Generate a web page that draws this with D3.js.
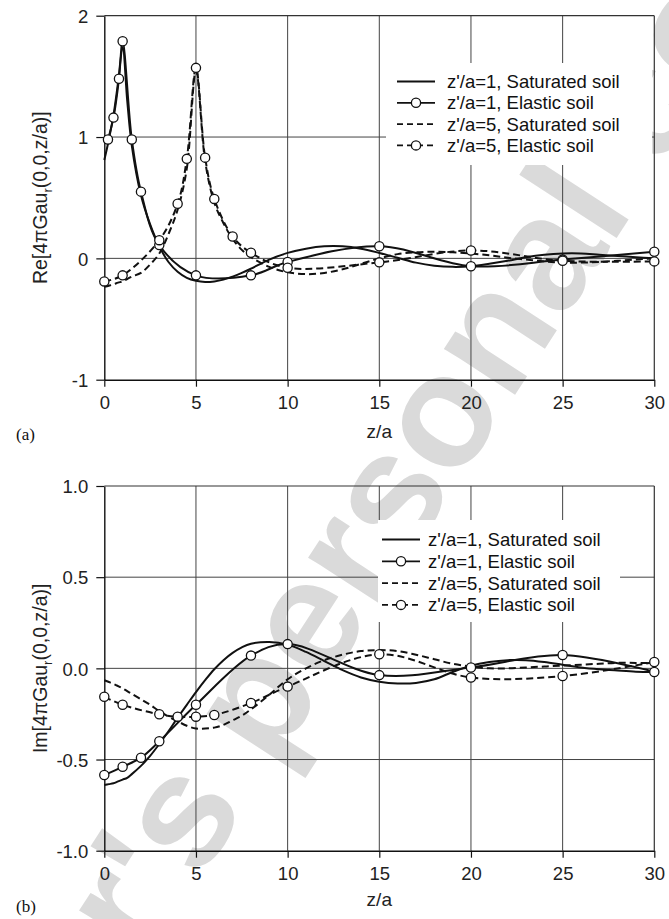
<!DOCTYPE html>
<html>
<head>
<meta charset="utf-8">
<script src="https://cdn.jsdelivr.net/npm/d3@7"></script>
<style>
  body { margin: 0; background: #fff; }
  svg { display: block; font-family: "Liberation Sans", Arial, Helvetica, sans-serif; }
</style>
</head>
<body>
<svg id="chart" width="669" height="919"></svg>
<script>
// x positions (z/a) shared by the saturated-soil curves
const satX = [0, 0.25, 0.5, 0.75, 1, 1.25, 1.5, 2, 2.5, 3, 3.5, 4, 4.5, 5, 5.5, 6, 6.5, 7, 7.5, 8,
  9, 10, 11, 12, 13, 14, 15, 16, 17, 18, 19, 20, 21, 22, 23, 24, 25, 26, 27, 28, 29, 30];

// (a) real part
const reSat1 = [0.81, 0.98, 1.18, 1.45, 1.74, 1.3, 0.93, 0.52, 0.28, 0.1, -0.03, -0.11, -0.16, -0.185, -0.195, -0.19,
  -0.175, -0.15, -0.12, -0.085, -0.01, 0.045, 0.08, 0.1, 0.1, 0.08, 0.045, 0.005, -0.035, -0.06, -0.07, -0.065,
  -0.045, -0.02, 0.01, 0.03, 0.04, 0.04, 0.03, 0.02, 0.01, 0.0];
const reSat5 = [-0.235, -0.225, -0.215, -0.2, -0.19, -0.17, -0.15, -0.12, -0.05, 0.04, 0.2, 0.4, 0.74, 1.55, 0.8, 0.46,
  0.29, 0.16, 0.07, 0.01, -0.07, -0.115, -0.13, -0.12, -0.09, -0.045, 0.0, 0.035, 0.05, 0.055, 0.05, 0.04,
  0.025, 0.005, -0.01, -0.025, -0.035, -0.035, -0.03, -0.02, -0.01, 0.0];
const reEla1X = [0.2, 0.5, 0.8, 1, 1.5, 2, 3, 5, 8, 10, 15, 20, 25, 30];
const reEla1 = [0.98, 1.16, 1.48, 1.79, 0.98, 0.55, 0.11, -0.14, -0.14, -0.03, 0.1, -0.065, -0.01, 0.055];
const reEla5X = [0, 1, 3, 4, 4.5, 5, 5.5, 6, 7, 8, 10, 15, 20, 25, 30];
const reEla5 = [-0.19, -0.14, 0.15, 0.45, 0.82, 1.57, 0.83, 0.49, 0.18, 0.046, -0.077, -0.033, 0.065, -0.02, -0.025];

// (b) imaginary part
const imSat1 = [-0.64, -0.635, -0.63, -0.62, -0.61, -0.6, -0.58, -0.535, -0.48, -0.415, -0.345, -0.27, -0.2, -0.13,
  -0.065, -0.005, 0.045, 0.085, 0.115, 0.135, 0.145, 0.13, 0.09, 0.04, -0.01, -0.05, -0.073, -0.083, -0.08, -0.06,
  -0.02, 0.015, 0.035, 0.045, 0.045, 0.035, 0.02, 0.005, -0.005, -0.012, -0.018, -0.02];
const imSat5 = [-0.065, -0.075, -0.085, -0.097, -0.11, -0.125, -0.14, -0.17, -0.2, -0.235, -0.265, -0.29, -0.315,
  -0.33, -0.33, -0.325, -0.31, -0.285, -0.26, -0.225, -0.145, -0.06, 0.0, 0.045, 0.075, 0.095, 0.1, 0.095, 0.075,
  0.05, 0.025, 0.01, 0.0, 0.0, 0.005, 0.01, 0.015, 0.02, 0.025, 0.03, 0.03, 0.03];
const imEla1X = [0, 1, 2, 3, 5, 8, 10, 15, 20, 25, 30];
const imEla1 = [-0.585, -0.54, -0.49, -0.4, -0.2, 0.07, 0.133, -0.037, 0.005, 0.073, -0.02];
const imEla5X = [0, 1, 3, 4, 5, 6, 8, 10, 15, 20, 25, 30];
const imEla5 = [-0.156, -0.2, -0.252, -0.265, -0.265, -0.256, -0.19, -0.1, 0.077, -0.05, -0.042, 0.035];

const xTicks = [0, 5, 10, 15, 20, 25, 30];
const reTicks = [-1, 0, 1, 2];
const imTicks = [-1, -0.5, 0, 0.5, 1];
const legendNames = ["z'/a=1, Saturated soil", "z'/a=1, Elastic soil", "z'/a=5, Saturated soil", "z'/a=5, Elastic soil"];

const svg = d3.select("#chart");
const dash = "7,4";

// watermark behind everything
const wm = svg.append("g").attr("transform", "translate(429,527) rotate(-57)");
const wmText = wm.append("text")
  .style("font-size", "160px").style("font-weight", "bold")
  .attr("fill", "#dadada");
wmText.text("Author's ");
const preW = wmText.node().getComputedTextLength();
wmText.text("personal");
const perW = wmText.node().getComputedTextLength();
wmText.text("Author's personal copy").attr("x", -(preW + perW / 2));

function drawPanel(p) {
  const x = d3.scaleLinear().domain([0, 30]).range([104.3, 654.3]);
  const y = d3.scaleLinear().domain(p.yDomain).range([p.bottom, p.top]);
  const g = svg.append("g");

  // grid
  g.selectAll(".vgrid").data(xTicks.slice(1, -1)).join("line")
    .attr("x1", d => x(d)).attr("x2", d => x(d))
    .attr("y1", p.top).attr("y2", p.bottom)
    .attr("stroke", "#444").attr("stroke-width", 1);
  g.selectAll(".hgrid").data(p.ticks.slice(1, -1)).join("line")
    .attr("x1", x(0)).attr("x2", x(30))
    .attr("y1", d => y(d)).attr("y2", d => y(d))
    .attr("stroke", "#444").attr("stroke-width", 1);

  // white legend box hides grid
  g.append("rect").attr("x", p.leg.x).attr("y", p.leg.y)
    .attr("width", p.leg.w).attr("height", p.leg.h).attr("fill", "#fff");

  // frame top/right
  g.append("line").attr("x1", x(0)).attr("x2", x(30)).attr("y1", p.top).attr("y2", p.top)
    .attr("stroke", "#333").attr("stroke-width", 1.2);
  g.append("line").attr("x1", x(30)).attr("x2", x(30)).attr("y1", p.top).attr("y2", p.bottom)
    .attr("stroke", "#333").attr("stroke-width", 1.2);

  // axes
  const ax = g.append("g").attr("transform", `translate(0,${p.bottom})`)
    .call(d3.axisBottom(x).tickValues(xTicks).tickSize(7).tickSizeOuter(0).tickPadding(6).tickFormat(d => d));
  const ay = g.append("g").attr("transform", `translate(${x(0)},0)`)
    .call(d3.axisLeft(y).tickValues(p.ticks).tickSize(8).tickSizeOuter(0).tickPadding(8).tickFormat(p.fmt));
  [ax, ay].forEach(a => {
    a.select(".domain").attr("stroke", "#111").attr("stroke-width", 1.4);
    a.selectAll(".tick line").attr("stroke", "#111").attr("stroke-width", 1.2);
    a.selectAll(".tick text").attr("fill", "#222").style("font-size", "18.5px")
      .style("font-family", "'Liberation Sans', Arial, sans-serif");
  });
  ax.selectAll(".tick text").attr("dy", "0.9em");
  ay.selectAll(".tick text").attr("dy", "0.36em");

  // curves
  const line = d3.line().x(d => x(d[0])).y(d => y(d[1])).curve(d3.curveCatmullRom.alpha(0.5));
  p.series.forEach(s => {
    g.append("path").datum(d3.zip(s.x, s.y)).attr("d", line)
      .attr("fill", "none").attr("stroke", "#111").attr("stroke-width", 2)
      .attr("stroke-dasharray", s.dashed ? dash : null);
  });
  p.series.filter(s => s.marks).forEach(s => {
    g.selectAll(null).data(d3.zip(s.x, s.y)).join("circle")
      .attr("cx", d => x(d[0])).attr("cy", d => y(d[1])).attr("r", 4.6)
      .attr("fill", "#fff").attr("stroke", "#111").attr("stroke-width", 1.3);
  });

  // legend entries
  p.series.forEach((s, i) => {
    const cy = p.leg.row0 + i * p.leg.gap;
    g.append("line").attr("x1", p.leg.lx1).attr("x2", p.leg.lx2).attr("y1", cy).attr("y2", cy)
      .attr("stroke", "#111").attr("stroke-width", 1.8).attr("stroke-dasharray", s.dashed ? "6,4" : null);
    if (s.marks) {
      g.append("circle").attr("cx", (p.leg.lx1 + p.leg.lx2) / 2).attr("cy", cy).attr("r", 4.6)
        .attr("fill", "#fff").attr("stroke", "#111").attr("stroke-width", 1.3);
    }
    g.append("text").attr("x", p.leg.tx).attr("y", cy + 6.5).text(legendNames[i])
      .attr("fill", "#111").style("font-size", "18.5px");
  });

  // axis titles
  const yt = g.append("text").attr("transform", `translate(47,${(p.top + p.bottom) / 2}) rotate(-90)`)
    .attr("text-anchor", "middle").attr("fill", "#222").style("font-size", "19.5px");
  yt.append("tspan").text(p.yPre + "[4πGau");
  yt.append("tspan").text("r").style("font-size", "13px").attr("dy", 5);
  yt.append("tspan").text("(0,0,z/a)]").attr("dy", -5);

  g.append("text").attr("x", x(15)).attr("y", p.bottom + p.titleDy).attr("text-anchor", "middle")
    .attr("fill", "#222").style("font-size", "19px").text("z/a");
  g.append("text").attr("x", 16).attr("y", p.bottom + p.tagDy)
    .attr("fill", "#111").style("font-size", "17px").style("font-family", "'Liberation Serif', 'Times New Roman', serif")
    .text(p.tag);
}

drawPanel({
  top: 15.7, bottom: 379.7, yDomain: [-1, 2], ticks: reTicks, fmt: d => String(d),
  yPre: "Re", tag: "(a)", titleDy: 58, tagDy: 60,
  leg: { x: 386, y: 63, w: 266, h: 102, lx1: 397, lx2: 435, tx: 447, row0: 81.5, gap: 21.3 },
  series: [
    { x: satX, y: reSat1, dashed: false, marks: false },
    { x: reEla1X, y: reEla1, dashed: false, marks: true },
    { x: satX, y: reSat5, dashed: true, marks: false },
    { x: reEla5X, y: reEla5, dashed: true, marks: true }
  ]
});

drawPanel({
  top: 486, bottom: 850.7, yDomain: [-1, 1], ticks: imTicks, fmt: d => d.toFixed(1),
  yPre: "Im", tag: "(b)", titleDy: 55, tagDy: 61,
  leg: { x: 378, y: 520, w: 242, h: 102, lx1: 382, lx2: 420, tx: 428, row0: 539.5, gap: 21.8 },
  series: [
    { x: satX, y: imSat1, dashed: false, marks: false },
    { x: imEla1X, y: imEla1, dashed: false, marks: true },
    { x: satX, y: imSat5, dashed: true, marks: false },
    { x: imEla5X, y: imEla5, dashed: true, marks: true }
  ]
});
</script>
</body>
</html>
